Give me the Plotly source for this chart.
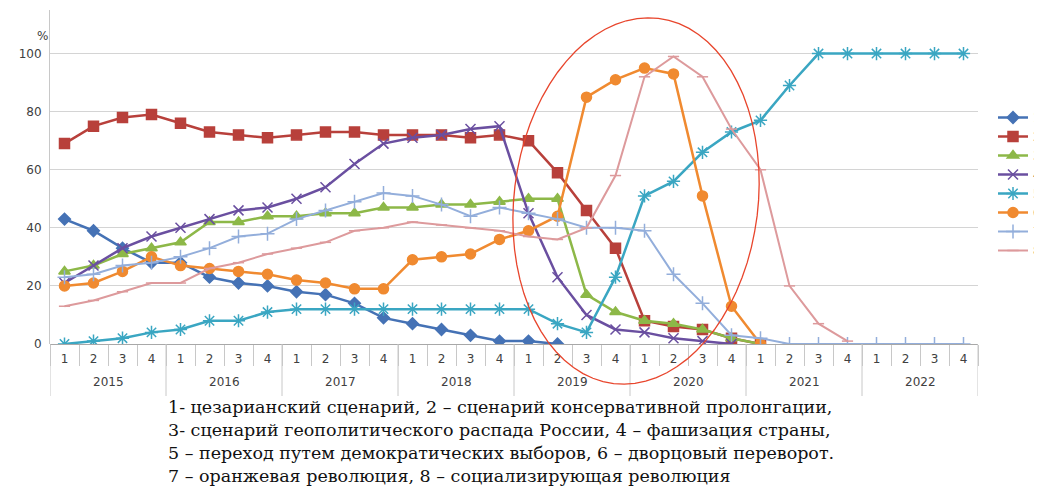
import math
import plotly.graph_objects as go

years = ["2015", "2016", "2017", "2018", "2019", "2020", "2021", "2022"]
quarters = ["1", "2", "3", "4"]

s1 = [43, 39, 33, 28, 28, 23, 21, 20, 18, 17, 14, 9, 7, 5, 3, 1, 1, 0]
s2 = [69, 75, 78, 79, 76, 73, 72, 71, 72, 73, 73, 72, 72, 72, 71, 72, 70, 59, 46, 33, 8, 6, 5, 2, 0]
s3 = [25, 27, 31, 33, 35, 42, 42, 44, 44, 45, 45, 47, 47, 48, 48, 49, 50, 50, 17, 11, 8, 7, 5, 2, 0]
s4 = [21, 27, 33, 37, 40, 43, 46, 47, 50, 54, 62, 69, 71, 72, 74, 75, 45, 23, 10, 5, 4, 2, 1, 0]
s5 = [0, 1, 2, 4, 5, 8, 8, 11, 12, 12, 12, 12, 12, 12, 12, 12, 12, 7, 4, 23, 51, 56, 66, 73, 77, 89,
      100, 100, 100, 100, 100, 100]
s6 = [20, 21, 25, 30, 27, 26, 25, 24, 22, 21, 19, 19, 29, 30, 31, 36, 39, 44, 85, 91, 95, 93, 51, 13, 0]
s7 = [23, 24, 27, 28, 30, 33, 37, 38, 43, 46, 49, 52, 51, 48, 44, 47, 45, 43, 40, 40, 39, 24, 14, 3, 2,
      0, 0, 0, 0, 0, 0, 0]
s8 = [13, 15, 18, 21, 21, 26, 28, 31, 33, 35, 39, 40, 42, 41, 40, 39, 37, 36, 40, 58, 92, 99, 92, 74, 60,
      20, 7, 1]

series_names = ["1", "2", "3", "4", "5", "6", "7", "8"]

caption_lines = [
    "1- цезарианский сценарий, 2 – сценарий консервативной пролонгации,",
    "3- сценарий геополитического распада России, 4 – фашизация страны,",
    "5 – переход путем демократических выборов, 6 – дворцовый переворот.",
    "7 – оранжевая революция, 8 – социализирующая революция",
]

q_all = [q for _ in years for q in quarters]
idx_all = list(range(len(q_all)))
nq = len(quarters)

styles = [
    dict(color="#4572B5", symbol="diamond", size=9, width=2.5),
    dict(color="#B8403B", symbol="square", size=10, width=2.5),
    dict(color="#8DB848", symbol="triangle-up", size=10, width=2.5),
    dict(color="#6A4FA0", symbol="x-thin-open", size=10, width=2.5),
    dict(color="#3AA6C2", symbol="asterisk-open", size=11, width=2.5),
    dict(color="#F08A30", symbol="circle", size=10, width=2.5),
    dict(color="#93AEDB", symbol="cross-thin-open", size=10, width=2),
    dict(color="#DD9A9C", symbol="line-ew-open", size=8, width=2),
]

fig = go.Figure()
for name, vals, st in zip(series_names, [s1, s2, s3, s4, s5, s6, s7, s8], styles):
    n = len(vals)
    fig.add_trace(go.Scatter(
        x=idx_all[:n], y=vals, name=name, mode="lines+markers",
        line=dict(color=st["color"], width=st["width"]),
        marker=dict(symbol=st["symbol"], size=st["size"], color=st["color"],
                    line=dict(color=st["color"], width=1.5)),
    ))

# page offset (browser body margin) and figure geometry, in screen pixels
OFF = 8
W, H = 1042 - OFF, 486 - OFF
L, R, T, B = 42, 64, 2, 142
pw, ph = W - L - R, H - T - B


def px2paper(sx, sy):
    return (sx - OFF - L) / pw, (H - B - (sy - OFF)) / ph


# year group labels and dividers
_, y_year = px2paper(0, 382)
_, y_div = px2paper(0, 396)
for k, yr in enumerate(years):
    fig.add_annotation(text=yr, xref="x", yref="paper", x=k * nq + (nq - 1) / 2, y=y_year,
                       showarrow=False, yanchor="middle",
                       font=dict(family="DejaVu Sans", size=12, color="#404040"))
for k in range(len(years) + 1):
    fig.add_shape(type="line", xref="x", yref="paper", x0=k * nq - 0.5, x1=k * nq - 0.5,
                  y0=0, y1=y_div, line=dict(color="#c8c8c8", width=1))

# ellipse highlight (screen geometry converted to paper coordinates)
cx, cy, a, b, ang = 636, 201, 122, 184, math.radians(7)
pts = []
for k in range(73):
    t = 2 * math.pi * k / 72
    ex, ey = a * math.cos(t), b * math.sin(t)
    sx = cx + ex * math.cos(ang) - ey * math.sin(ang)
    sy = cy + ex * math.sin(ang) + ey * math.cos(ang)
    pts.append(px2paper(sx, sy))
path = "M" + " L".join(f"{x:.4f},{y:.4f}" for x, y in pts) + " Z"
fig.add_shape(type="path", path=path, xref="paper", yref="paper",
              line=dict(color="#E8452C", width=1.3))

px_, py_ = px2paper(35, 27)
fig.add_annotation(text="%", xref="paper", yref="paper", x=px_, y=py_,
                   showarrow=False, font=dict(family="DejaVu Sans", size=12, color="#404040"))

for i, line in enumerate(caption_lines):
    cx_, cy_ = px2paper(166, 406.5 + 23 * i)
    fig.add_annotation(text=line, xref="paper", yref="paper", x=cx_, y=cy_,
                       xanchor="left", yanchor="middle", showarrow=False,
                       font=dict(family="DejaVu Serif", size=17.5, color="#111"))

lx, ly = px2paper(993, 103)
fig.update_layout(
    width=W, height=H, margin=dict(l=L, r=R, t=T, b=B, autoexpand=False),
    paper_bgcolor="white", plot_bgcolor="white",
    font=dict(family="DejaVu Sans", size=12, color="#404040"),
    legend=dict(x=lx, y=ly, xanchor="left", yanchor="top",
                font=dict(size=12), tracegroupgap=0, itemwidth=30),
    showlegend=True,
)
fig.update_xaxes(range=[-0.5, len(q_all) - 0.5], tickvals=idx_all, ticktext=q_all,
                 showgrid=False, showline=False, ticks="", zeroline=False,
                 ticklabelstandoff=6,
                 minor=dict(tick0=0.5, dtick=1, ticks="outside", ticklen=21,
                            tickcolor="#c8c8c8", showgrid=False),
                 tickfont=dict(size=12, color="#404040"))
fig.update_yaxes(range=[0, 115], tickvals=[0, 20, 40, 60, 80, 100], showgrid=True,
                 gridcolor="#d4d4d4", gridwidth=1, zeroline=True, zerolinecolor="#a8a8a8",
                 zerolinewidth=1, showline=True, linecolor="#c8c8c8", ticks="",
                 ticklabelstandoff=5,
                 tickfont=dict(size=12, color="#404040"))

fig.write_html("out.html")
